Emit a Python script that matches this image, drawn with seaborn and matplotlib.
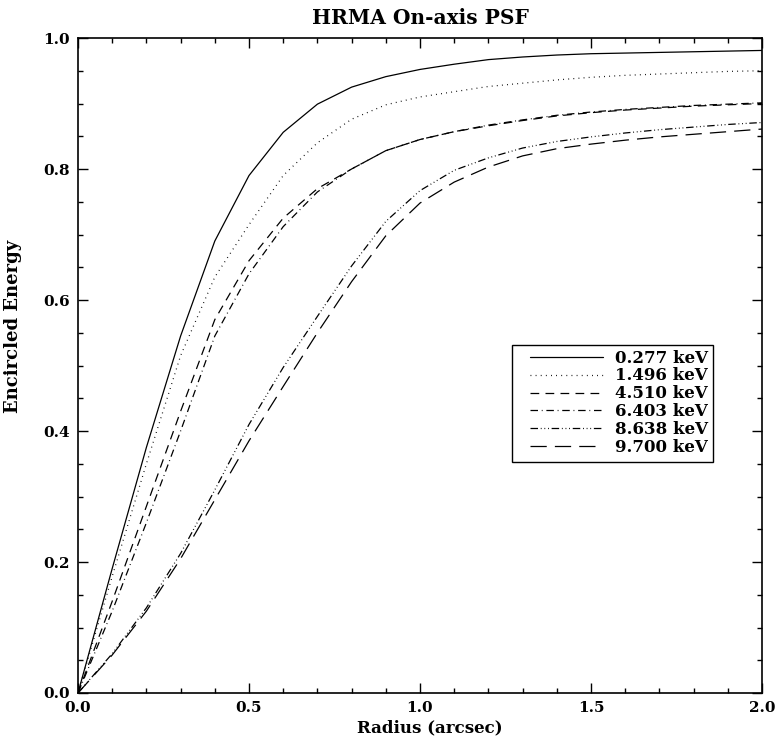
import matplotlib
matplotlib.use("Agg")
import matplotlib.pyplot as plt
from matplotlib.patches import Rectangle
from matplotlib.ticker import MultipleLocator
import pandas as pd
import seaborn as sns

# Encircled energy of the on-axis HRMA point spread function
radius = [0.0, 0.1, 0.2, 0.3, 0.4, 0.5, 0.6, 0.7, 0.8, 0.9, 1.0,
          1.1, 1.2, 1.3, 1.4, 1.5, 1.6, 1.7, 1.8, 1.9, 2.0]

ee_0277 = [0.0, 0.19, 0.375, 0.545, 0.69, 0.79, 0.856, 0.899, 0.925, 0.941, 0.952,
           0.960, 0.967, 0.971, 0.974, 0.976, 0.977, 0.978, 0.979, 0.980, 0.981]
ee_1496 = [0.0, 0.178, 0.35, 0.515, 0.635, 0.715, 0.79, 0.84, 0.876, 0.898, 0.910,
           0.918, 0.926, 0.931, 0.936, 0.940, 0.943, 0.945, 0.947, 0.949, 0.950]
ee_4510 = [0.0, 0.14, 0.285, 0.43, 0.57, 0.66, 0.725, 0.77, 0.80, 0.828, 0.845,
           0.857, 0.866, 0.874, 0.881, 0.886, 0.890, 0.893, 0.896, 0.898, 0.900]
ee_6403 = [0.0, 0.125, 0.26, 0.40, 0.545, 0.64, 0.712, 0.765, 0.80, 0.828, 0.845,
           0.857, 0.867, 0.875, 0.882, 0.887, 0.891, 0.894, 0.897, 0.899, 0.901]
ee_8638 = [0.0, 0.06, 0.13, 0.213, 0.31, 0.41, 0.497, 0.575, 0.652, 0.72, 0.767,
           0.798, 0.817, 0.832, 0.842, 0.849, 0.855, 0.860, 0.864, 0.868, 0.871]
ee_9700 = [0.0, 0.058, 0.125, 0.205, 0.295, 0.385, 0.468, 0.55, 0.628, 0.698, 0.748,
           0.780, 0.803, 0.820, 0.831, 0.838, 0.844, 0.849, 0.853, 0.857, 0.861]

energies = ["0.277 keV", "1.496 keV", "4.510 keV", "6.403 keV", "8.638 keV", "9.700 keV"]
series = [ee_0277, ee_1496, ee_4510, ee_6403, ee_8638, ee_9700]

x_ticks = [0.0, 0.5, 1.0, 1.5, 2.0]
y_ticks = [0.0, 0.2, 0.4, 0.6, 0.8, 1.0]

df = pd.DataFrame({
    "Radius": [r for _ in energies for r in radius],
    "EE": [v for s in series for v in s],
    "Energy": [e for e in energies for _ in radius],
})

# line patterns: solid, dotted, dashed, dash-dot, dash-dot-dot-dot, long dash
dash_styles = {
    "0.277 keV": "",
    "1.496 keV": (0.7, 3.4),
    "4.510 keV": (7.0, 5.0),
    "6.403 keV": (6.0, 3.0, 0.7, 3.0),
    "8.638 keV": (6.0, 2.2, 0.7, 2.2, 0.7, 2.2, 0.7, 2.2),
    "9.700 keV": (13.0, 6.5),
}

sns.set_theme(style="ticks")
plt.rcParams["font.family"] = ["DejaVu Serif"]
for key in ("text.color", "axes.labelcolor", "xtick.color", "ytick.color",
            "axes.edgecolor"):
    plt.rcParams[key] = "black"

W, H = 776, 737
fig = plt.figure(figsize=(W / 100, H / 100), dpi=100)
ax = fig.add_axes([78 / W, 1 - 693 / H, (762 - 78) / W, (693 - 38) / H])

sns.lineplot(data=df, x="Radius", y="EE", style="Energy", dashes=dash_styles,
             color="black", linewidth=0.9, legend=False, ax=ax, sort=False)

ax.set_xlim(0, 2.0)
ax.set_ylim(0, 1.0)
ax.set_xticks(x_ticks)
ax.set_yticks(y_ticks)
ax.set_xticklabels([f"{t:.1f}" for t in x_ticks])
ax.set_yticklabels([f"{t:.1f}" for t in y_ticks])
ax.xaxis.set_minor_locator(MultipleLocator(0.1))
ax.yaxis.set_minor_locator(MultipleLocator(0.05))
ax.tick_params(which="both", direction="in", top=True, right=True,
               color="black", width=1.0)
ax.tick_params(which="major", length=7, pad=6, labelsize=11)
ax.tick_params(which="minor", length=3.5)
for lab in ax.get_xticklabels() + ax.get_yticklabels():
    lab.set_fontweight("bold")
for sp in ax.spines.values():
    sp.set_visible(True)
    sp.set_color("black")
    sp.set_linewidth(1.2)

ax.set_title("HRMA On-axis PSF", fontsize=14.5, fontweight="bold", pad=10)
ax.set_xlabel("Radius (arcsec)", fontsize=12, fontweight="bold")
ax.xaxis.set_label_coords(0.515, -0.041)
ax.set_ylabel("Encircled Energy", fontsize=13, fontweight="bold")
ax.yaxis.set_label_coords(-0.082, 0.56)

# legend entries without their own frame; the box is drawn as a separate patch
handles = ax.get_lines()[:len(energies)]
leg = ax.legend(handles, energies, loc="upper left",
                bbox_to_anchor=(523 / W, 1 - 343 / H),
                bbox_transform=fig.transFigure, borderaxespad=0.0,
                fontsize=12, handlelength=4.4, handletextpad=0.72,
                labelspacing=0.05, borderpad=0.4, frameon=False)
leg.set_zorder(6)
for t in leg.get_texts():
    t.set_fontweight("bold")
ax.add_patch(Rectangle((512 / W, 1 - 462 / H), 201 / W, 117 / H,
                       transform=fig.transFigure, clip_on=False,
                       facecolor="white", edgecolor="black",
                       linewidth=1.0, zorder=5))

fig.savefig("out.png", dpi=100, facecolor="white")
